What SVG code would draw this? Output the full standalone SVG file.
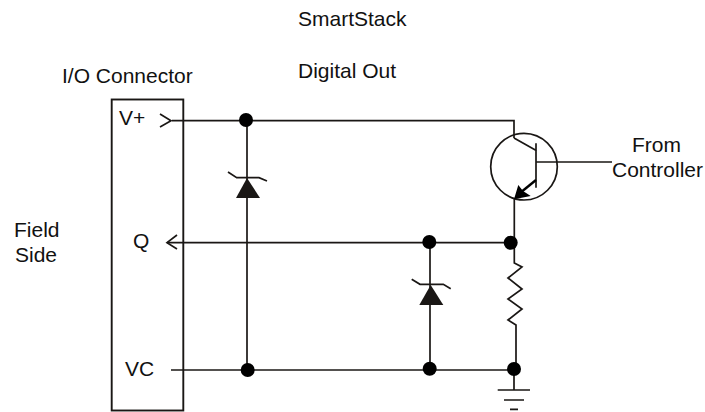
<svg xmlns="http://www.w3.org/2000/svg" width="705" height="412" viewBox="0 0 705 412">
<style>
text{font-family:"Liberation Sans",Arial,sans-serif;font-size:21px;fill:#111}
.w{fill:none;stroke:#1a1715;stroke-width:1.700}
.f{fill:#1a1715;stroke:none}
.d{fill:#000;stroke:none}
</style>
<rect width="705" height="412" fill="#fff"/>
<g id="labels">
<text x="298" y="26">SmartStack</text>
<text x="298" y="77.500">Digital Out</text>
<text x="62" y="82.500">I/O Connector</text>
<text x="14" y="237">Field</text>
<text x="15" y="262">Side</text>
<text x="632" y="152">From</text>
<text x="612" y="177">Controller</text>
</g>
<g id="connector-block">
<rect x="111.700" y="99.500" width="71.600" height="311" fill="none" stroke="#1a1715" stroke-width="1.900"/>
<text x="119" y="125">V+</text>
<text x="133" y="248">Q</text>
<text x="125" y="376">VC</text>
</g>
<g id="connectors">
<path class="w" d="M172 120.700H514V138"/>
<path class="w" d="M167 242.700H511"/>
<path class="w" d="M171 370H514"/>
<path class="w" d="M160 114L171 120.700L160 127"/>
<path class="w" d="M177 235L167 242.700L177 249"/>
<path class="w" d="M247 120V370"/>
<path class="w" d="M430 242V370"/>
<path class="w" d="M514.300 199V263L522 267L508 278L522 289L508 299L522 309L508 320L516 325V370"/>
</g>
<g id="zener-1">
<path class="w" d="M228 172L236.700 177.700H259L267 181"/>
<path class="f" d="M247 178L236 198H260Z"/>
</g>
<g id="zener-2">
<path class="w" d="M411.700 279.300L420 284.300H443.300L450.700 288.700"/>
<path class="f" d="M430.700 285L419.300 305H443.300Z"/>
</g>
<g id="transistor">
<circle class="w" cx="524" cy="166.700" r="33.300"/>
<path class="w" d="M514 138L536.700 150.700M536 143.300V187.700M536 162H612"/>
<path d="M536 180L520 193" fill="none" stroke="#000" stroke-width="2.400"/>
<path class="d" d="M514 199.300L518.300 185L523 191L530.700 196Z"/>
</g>
<g id="ground">
<path class="w" d="M514 370V390M497.700 390H530M504 400H524M510 409.300H518"/>
</g>
<g id="junctions">
<circle class="d" cx="246" cy="120" r="7"/>
<circle class="d" cx="247.700" cy="370" r="7"/>
<circle class="d" cx="429.300" cy="242" r="7"/>
<circle class="d" cx="510.700" cy="242.700" r="7"/>
<circle class="d" cx="429.700" cy="368.700" r="7"/>
<circle class="d" cx="514" cy="369" r="7"/>
</g>
</svg>
